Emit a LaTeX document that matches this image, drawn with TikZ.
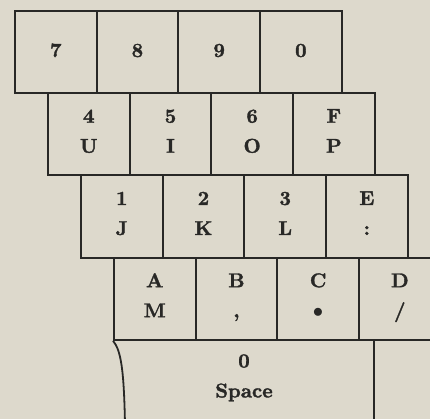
\documentclass[tikz,border=0pt]{standalone}
\usepackage{fontspec}
\newfontfamily\keyfont{lmroman10-bold.otf}[FakeBold=1.6]
\definecolor{paper}{RGB}{221,217,204}
\definecolor{ink}{RGB}{40,40,38}
\tikzset{
  keybox/.style={draw=ink, line width=1.8pt, minimum width=81.7pt, minimum height=82.25pt, inner sep=0pt, anchor=north west},
  lab/.style={text=ink, font=\fontsize{20}{24}\selectfont\keyfont, inner sep=0pt, text height=0.69em, text depth=0pt},
  edge/.style={draw=ink, line width=1.8pt}
}
\newcommand\onekey[4]{%
  \node[keybox] (#1) at (#2,#3) {};
  \node[lab] (#1t) at ([yshift=-1.5pt]#1.center) {#4};}
\newcommand\twokey[5]{%
  \node[keybox] (#1) at (#2,#3) {};
  \node[lab] (#1t) at ([yshift=15pt]#1.center) {#4};
  \node[lab] (#1b) at ([yshift=-15pt]#1.center) {#5};}
\begin{document}
\begin{tikzpicture}[x=1pt,y=-1pt]
\fill[paper] (0,0) rectangle (430,419);
\useasboundingbox (0,0) rectangle (430,419);
\clip (0,0) rectangle (430,419);
% row 1
\onekey{k7}{14}{10}{7}
\onekey{k8}{95.7}{10}{8}
\onekey{k9}{177.4}{10}{9}
\onekey{k0}{259.1}{10}{0}
% row 2
\twokey{kU}{47}{92.25}{4}{U}
\twokey{kI}{128.7}{92.25}{5}{I}
\twokey{kO}{210.4}{92.25}{6}{O}
\twokey{kP}{292.1}{92.25}{F}{P}
% row 3
\twokey{kJ}{80}{174.5}{1}{J}
\twokey{kK}{161.7}{174.5}{2}{K}
\twokey{kL}{243.4}{174.5}{3}{L}
\twokey{kE}{325.1}{174.5}{E}{:}
% row 4
\twokey{kM}{113}{256.75}{A}{M}
\twokey{kB}{194.7}{256.75}{B}{,}
\twokey{kC}{276.4}{256.75}{C}{$\bullet$}
\twokey{kD}{358.1}{256.75}{D}{/}
% space bar
\coordinate (spbot) at (125,425);
\coordinate (divtop) at (374,339);
\coordinate (divbot) at (374,425);
\draw[edge] (kM.south west) .. controls (121,350) and (124,370) .. (spbot);
\draw[edge] (divtop) -- (divbot);
\node[lab] (sp0) at (244,364) {0};
\node[lab] (spt) at (244,394) {Space};
\end{tikzpicture}
\end{document}
